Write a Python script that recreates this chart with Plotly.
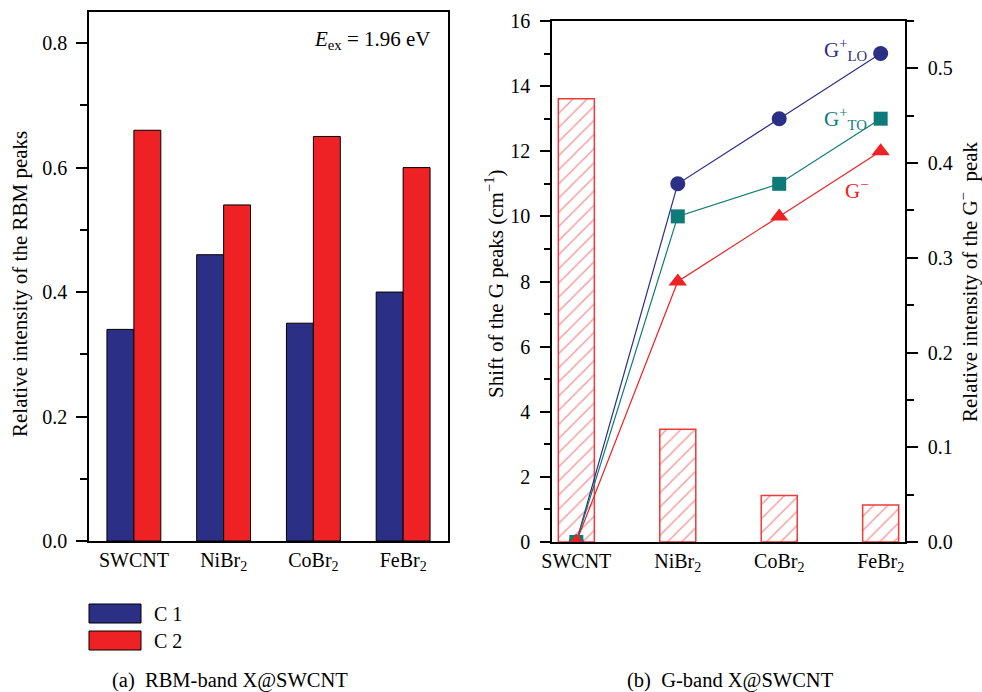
import plotly.graph_objects as go

# ---------------- data ----------------
categories = ["SWCNT", "NiBr<sub>2</sub>", "CoBr<sub>2</sub>", "FeBr<sub>2</sub>"]
rbm_c1 = [0.34, 0.46, 0.35, 0.40]
rbm_c2 = [0.66, 0.54, 0.65, 0.60]
g_minus_intensity = [0.468, 0.119, 0.049, 0.039]
shift_g_lo = [0, 11, 13, 15]
shift_g_to = [0, 10, 11, 13]
shift_g_minus = [0, 8, 10, 12]

W, H = 982, 692
FONT = "Liberation Serif"
NAVY = "#2B2F85"
RED = "#EE2224"
TEAL = "#0E7B78"
HATCH = "#EE3A3A"


def px(x):
    return x / W


def py(y):
    return 1 - y / H


fig = go.Figure()

# ---- panel (a) ----
fig.add_trace(go.Bar(x=categories, y=rbm_c1, name="C 1", marker=dict(color=NAVY, line=dict(color="black", width=1)),
                     xaxis="x", yaxis="y", offsetgroup="a1"))
fig.add_trace(go.Bar(x=categories, y=rbm_c2, name="C 2", marker=dict(color=RED, line=dict(color="black", width=1)),
                     xaxis="x", yaxis="y", offsetgroup="a2"))

# ---- panel (b) ----
fig.add_trace(go.Bar(x=categories, y=g_minus_intensity, width=0.355, xaxis="x2", yaxis="y2",
                     marker=dict(color="white", line=dict(color=HATCH, width=1.5),
                                 pattern=dict(shape="/", fgcolor=HATCH, bgcolor="white", size=10, solidity=0.15)),
                     offsetgroup="b1"))
fig.add_trace(go.Scatter(x=categories, y=shift_g_lo, mode="lines+markers", xaxis="x2", yaxis="y3",
                         line=dict(color=NAVY, width=1.2), marker=dict(symbol="circle", size=15, color=NAVY)))
fig.add_trace(go.Scatter(x=categories, y=shift_g_to, mode="lines+markers", xaxis="x2", yaxis="y3",
                         line=dict(color=TEAL, width=1.2), marker=dict(symbol="square", size=14, color=TEAL)))
fig.add_trace(go.Scatter(x=categories, y=shift_g_minus, mode="lines+markers", xaxis="x2", yaxis="y3",
                         line=dict(color=RED, width=1.2), marker=dict(symbol="triangle-up", size=16, color=RED)))

axis_common = dict(showline=True, linecolor="black", linewidth=1.5, showgrid=False, zeroline=False,
                   tickfont=dict(family=FONT, size=20, color="black"), automargin=False)

fig.update_layout(
    width=W, height=H,
    margin=dict(l=0, r=0, t=0, b=0),
    paper_bgcolor="white", plot_bgcolor="white",
    showlegend=False,
    barmode="group", bargap=0.4, bargroupgap=0,
    font=dict(family=FONT, size=20, color="black"),
    xaxis=dict(domain=[px(89), px(448)], anchor="y", range=[-0.5, 3.5], ticks="", mirror=True, **axis_common),
    yaxis=dict(domain=[py(541), py(12)], anchor="x", range=[0, 0.85], dtick=0.2, tickformat=".1f",
               ticks="outside", ticklen=11, tickwidth=1.5, tickcolor="black", mirror=True, ticklabelstandoff=5,
               minor=dict(dtick=0.1, ticks="outside", ticklen=7, tickwidth=1.5, tickcolor="black"),
               **axis_common),
    xaxis2=dict(domain=[px(552), px(905)], anchor="y2", range=[-0.24, 3.24], ticks="", mirror=True, **axis_common),
    yaxis2=dict(domain=[py(542), py(21)], anchor="x2", side="right", range=[0, 0.55], dtick=0.1, tickformat=".1f",
                ticks="outside", ticklen=11, tickwidth=1.5, tickcolor="black", ticklabelstandoff=6,
                minor=dict(dtick=0.05, ticks="outside", ticklen=7, tickwidth=1.5, tickcolor="black"),
                **axis_common),
    yaxis3=dict(overlaying="y2", anchor="x2", side="left", range=[0, 16], dtick=2,
                ticks="outside", ticklen=10, tickwidth=1.5, tickcolor="black", ticklabelstandoff=6,
                minor=dict(dtick=1, ticks="outside", ticklen=6, tickwidth=1.5, tickcolor="black"),
                **axis_common),
)

ann = []


def add_text(text, x, y, size=20, color="black", xanchor="center", yanchor="middle", angle=0):
    ann.append(dict(text=text, x=px(x), y=py(y), xref="paper", yref="paper", showarrow=False,
                    xanchor=xanchor, yanchor=yanchor, textangle=angle,
                    font=dict(family=FONT, size=size, color=color)))


add_text("Relative intensity of the RBM peaks", 20, 284, size=21, angle=-90)
add_text("Shift of the G peaks (cm<sup>\u22121</sup>)", 494, 284, size=21, angle=-90)
add_text("Relative intensity of the G<sup>\u2212</sup>  peak", 968, 282, size=21, angle=-90)
add_text("<i>E</i><sub>ex</sub> = 1.96 eV", 433, 40, size=21, xanchor="right")
add_text("G<sup>+</sup><sub>LO</sub>", 869, 50, size=21, color=NAVY, xanchor="right")
add_text("G<sup>+</sup><sub>TO</sub>", 869, 118, size=21, color=TEAL, xanchor="right")
add_text("G<sup>\u2212</sup>", 870, 190, size=21, color=RED, xanchor="right")
add_text("C 1", 152, 614, size=20, xanchor="left")
add_text("C 2", 152, 641, size=20, xanchor="left")
add_text("(a)  RBM-band X@SWCNT", 230, 680, size=20.5)
add_text("(b)  G-band X@SWCNT", 730, 680, size=20.5)
fig.update_layout(annotations=ann)

# legend swatches (panel a)
fig.add_shape(type="rect", xref="paper", yref="paper", x0=px(89), x1=px(141), y0=py(623), y1=py(604),
              fillcolor=NAVY, line=dict(color="black", width=1))
fig.add_shape(type="rect", xref="paper", yref="paper", x0=px(89), x1=px(141), y0=py(650), y1=py(631),
              fillcolor=RED, line=dict(color="black", width=1))

fig.write_html("out.html", config={"displayModeBar": False},
               post_script="document.body.style.margin='0';document.body.style.overflow='hidden';")
